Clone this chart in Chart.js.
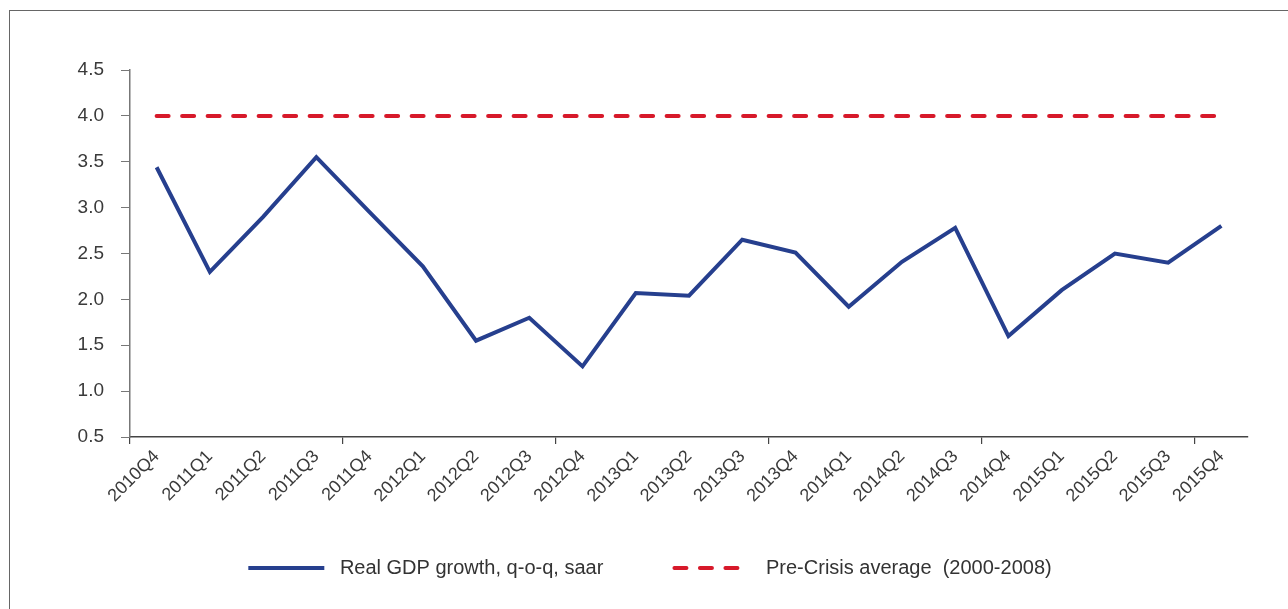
<!DOCTYPE html>
<html lang="en">
<head>
<meta charset="UTF-8">
<title>Real GDP growth</title>
<script src="https://cdn.jsdelivr.net/npm/chart.js"></script>
<style>
    html, body { margin: 0; padding: 0; background: #fff; }
    #wrap { position: relative; width: 1288px; height: 609px; }
    #frame { position: absolute; left: 9px; top: 10px; right: 0; bottom: 0;
             border-left: 1px solid #666; border-top: 1px solid #666; pointer-events: none; }
    canvas { display: block; }
</style>
</head>
<body>
<div id="wrap">
    <canvas id="grafico" width="1288" height="609"></canvas>
    <div id="frame"></div>
</div>
<script>
const quarters = ['2010Q4', '2011Q1', '2011Q2', '2011Q3', '2011Q4', '2012Q1', '2012Q2',
                  '2012Q3', '2012Q4', '2013Q1', '2013Q2', '2013Q3', '2013Q4', '2014Q1',
                  '2014Q2', '2014Q3', '2014Q4', '2015Q1', '2015Q2', '2015Q3', '2015Q4'];
const gdpGrowth = [3.44, 2.30, 2.90, 3.55, 2.95, 2.36, 1.55, 1.80, 1.27, 2.07, 2.04,
                   2.65, 2.51, 1.92, 2.41, 2.78, 1.60, 2.10, 2.50, 2.40, 2.80];
const preCrisisAvg = [4.0, 4.0, 4.0, 4.0, 4.0, 4.0, 4.0, 4.0, 4.0, 4.0, 4.0,
                      4.0, 4.0, 4.0, 4.0, 4.0, 4.0, 4.0, 4.0, 4.0, 4.0];
const seriesNames = ['Real GDP growth, q-o-q, saar', 'Pre-Crisis average  (2000-2008)'];
const yMin = 0.5, yMax = 4.5, yStep = 0.5;

Chart.defaults.font.family = '"Liberation Sans", Arial, sans-serif';
Chart.defaults.color = '#3a3a3a';

const ctx = document.getElementById('grafico').getContext('2d');
new Chart(ctx, {
    type: 'line',
    data: {
        labels: quarters,
        datasets: [{
            label: seriesNames[0],
            data: gdpGrowth,
            borderColor: '#263f8e',
            backgroundColor: '#263f8e',
            borderWidth: 4,
            pointRadius: 0,
            tension: 0,
            fill: false
        }, {
            label: seriesNames[1],
            data: preCrisisAvg,
            borderColor: '#d7192a',
            backgroundColor: '#d7192a',
            borderWidth: 4,
            borderDash: [12, 13.5],
            borderCapStyle: 'round',
            pointRadius: 0,
            fill: false
        }]
    },
    options: {
        responsive: false,
        animation: false,
        devicePixelRatio: 1,
        layout: { padding: { top: 70, right: 40, bottom: 21, left: 52 } },
        plugins: {
            tooltip: { enabled: false },
            legend: {
                position: 'bottom',
                labels: {
                    usePointStyle: true,
                    pointStyle: 'line',
                    pointStyleWidth: 76,
                    padding: 10,
                    color: '#333',
                    font: { size: 20 },
                    // line samples take the dataset's dash, plus extra room around the text
                    generateLabels(chart) {
                        const items = Chart.defaults.plugins.legend.labels.generateLabels(chart);
                        items.forEach((item, i) => {
                            const ds = chart.data.datasets[i];
                            item.lineWidth = ds.borderWidth;
                            item.strokeStyle = ds.borderColor;
                            item.lineDash = ds.borderDash || [];
                            item.lineCap = ds.borderCapStyle || 'butt';
                            item.text = ' ' + item.text;
                        });
                        items[0].text += ' '.repeat(11);
                        return items;
                    }
                }
            }
        },
        scales: {
            x: {
                offset: true,
                grid: {
                    offset: true,
                    drawOnChartArea: false,
                    tickLength: 7,
                    lineWidth: 1.2,
                    color: c => (c.index % 4 === 0 ? '#444' : 'rgba(0,0,0,0)')
                },
                border: { display: true, color: '#444', width: 1.5 },
                ticks: { autoSkip: false, maxRotation: 45, minRotation: 45, padding: 2, font: { size: 18 } },
                afterFit(scale) { scale.height = 111; }
            },
            y: {
                min: yMin,
                max: yMax,
                grid: { drawOnChartArea: false, tickLength: 9, color: '#777' },
                border: { display: true, color: '#777', width: 1.5 },
                ticks: {
                    stepSize: yStep,
                    padding: 17,
                    font: { size: 19 },
                    callback: v => v.toFixed(1)
                },
                afterFit(scale) { scale.width = 78; }
            }
        }
    }
});
</script>
</body>
</html>
